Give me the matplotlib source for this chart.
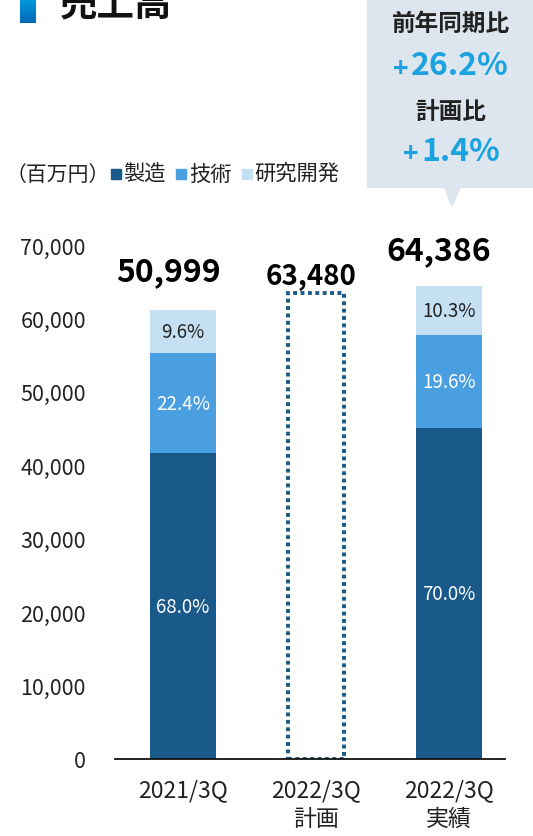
import numpy as np
import matplotlib.pyplot as plt
from matplotlib.patches import Rectangle, Polygon
from matplotlib.colors import LinearSegmentedColormap

plt.rcParams['font.family'] = ['Noto Sans CJK JP', 'DejaVu Sans']

W, H = 533, 837

categories = ['2021/3Q', '2022/3Q\n計画', '2022/3Q\n実績']
total_labels = ['50,999', '63,480', '64,386']
# drawn heights of the stacked bars
bar_totals = [61200, 64386]
plan_value = 63480
share_mfg = [68.0, 70.0]
share_tech = [22.4, 19.6]
share_rnd = [9.6, 10.3]
series_names = ['製造', '技術', '研究開発']
yoy_text = '26.2%'
plan_ratio_text = '1.4%'

c_dark = '#1A5A8A'
c_mid = '#4A9FE0'
c_light = '#C5DFF3'
c_cyan = '#1BA3E0'


def fx(px):
    return px / W


def fy(py):
    return 1 - py / H


fig = plt.figure(figsize=(W / 100, H / 100), dpi=100)

ax = fig.add_axes([fx(115), fy(760), (505 - 115) / W, (760 - 246) / H])
ax.set_xlim(-0.511, 2.421)
ax.set_ylim(0, 70000)

xs = np.array([0, 2])
mfg = np.array(bar_totals) * np.array(share_mfg) / 100
tech = np.array(bar_totals) * np.array(share_tech) / 100
rnd = np.array(bar_totals) - mfg - tech
bw = 0.5
ax.bar(xs, mfg, bw, color=c_dark, linewidth=0)
ax.bar(xs, tech, bw, bottom=mfg, color=c_mid, linewidth=0)
ax.bar(xs, rnd, bw, bottom=mfg + tech, color=c_light, linewidth=0)

# plan (dotted outline)
ax.bar([1], [plan_value], 0.42, fill=False, edgecolor=c_dark,
       linewidth=2.8, linestyle=(0, (1, 0.9)))

for i, x in enumerate(xs):
    ax.text(x, mfg[i] / 2, f'{share_mfg[i]:.1f}%', ha='center', va='center',
            color='white', fontsize=13.5)
    ax.text(x, mfg[i] + tech[i] / 2, f'{share_tech[i]:.1f}%', ha='center',
            va='center', color='white', fontsize=13.5)
    ax.text(x, mfg[i] + tech[i] + rnd[i] / 2, f'{share_rnd[i]:.1f}%',
            ha='center', va='center', color='#222222', fontsize=13.5)

# total labels above bars (slightly left of bar centres, as in the slide)
label_dx = [-0.105, -0.04, -0.075]
label_y = [66400, 65800, 69300]
label_size = [23, 20, 23]
for i in range(3):
    ax.text(i + label_dx[i], label_y[i], total_labels[i], ha='center', va='center',
            fontsize=label_size[i], fontweight='bold', color='black')

ax.set_yticks(np.arange(0, 70001, 10000))
ax.set_yticklabels([f'{v:,}' for v in range(0, 70001, 10000)])
ax.set_xticks([0, 1, 2])
ax.set_xticklabels(categories, linespacing=1.3)
ax.tick_params(axis='y', length=0, pad=21, labelsize=15.5, labelcolor='#222222')
ax.tick_params(axis='x', length=0, pad=14, labelsize=16.5, labelcolor='#222222')
for s in ['top', 'right', 'left']:
    ax.spines[s].set_visible(False)
ax.spines['bottom'].set_linewidth(1.3)
ax.spines['bottom'].set_color('#111111')

# title with gradient marker
mk = fig.add_axes([fx(20), fy(24), 16 / W, 24 / H])
grad = np.linspace(0, 1, 50).reshape(-1, 1)
mk.imshow(grad, aspect='auto',
          cmap=LinearSegmentedColormap.from_list('g', ['#009BDD', '#0068B5']))
mk.axis('off')
fig.text(fx(60), fy(4), '売上高', fontsize=27, fontweight='bold',
         ha='left', va='center', color='#111111')

# unit and legend
fig.text(fx(6), fy(175), '（百万円）', fontsize=15, ha='left', va='center',
         color='#222222')
leg_sq = [111, 176, 242]
leg_tx = [123, 189, 254]
for sq, tx, name, col in zip(leg_sq, leg_tx, series_names, [c_dark, c_mid, c_light]):
    fig.patches.append(Rectangle((fx(sq), fy(180)), 10 / W, 10 / H,
                                 transform=fig.transFigure, color=col))
    fig.text(fx(tx), fy(175), name, fontsize=15.3, ha='left', va='center',
             color='#222222')

# callout box
bg = '#DDE6EF'
fig.patches.append(Rectangle((fx(367), fy(188)), (W - 367) / W, 188 / H,
                             transform=fig.transFigure, color=bg, zorder=0))
fig.patches.append(Polygon([(fx(444), fy(187)), (fx(461), fy(187)), (fx(452), fy(207))],
                           closed=True, transform=fig.transFigure, color=bg, zorder=0))
fig.text(fx(451), fy(24), '前年同期比', fontsize=17, fontweight='bold',
         ha='center', va='center', color='#222222')
fig.text(fx(409), fy(69), '+', fontsize=19, fontweight='bold',
         ha='right', va='center', color=c_cyan)
fig.text(fx(411), fy(66), yoy_text, fontsize=23, fontweight='bold',
         ha='left', va='center', color=c_cyan)
fig.text(fx(451), fy(112), '計画比', fontsize=17, fontweight='bold',
         ha='center', va='center', color='#222222')
fig.text(fx(419), fy(155), '+', fontsize=19, fontweight='bold',
         ha='right', va='center', color=c_cyan)
fig.text(fx(421), fy(152), plan_ratio_text, fontsize=23, fontweight='bold',
         ha='left', va='center', color=c_cyan)

fig.savefig('out.png', dpi=100)
